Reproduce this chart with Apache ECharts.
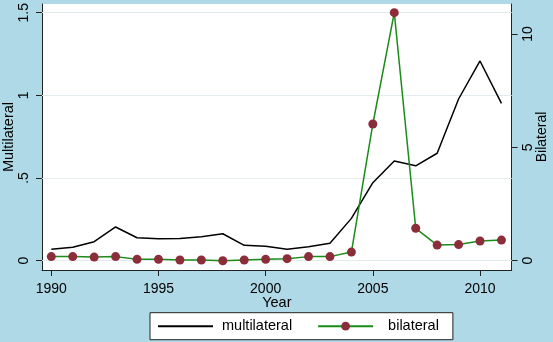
<!DOCTYPE html>
<html>
<head>
<meta charset="utf-8">
<script src="https://cdn.jsdelivr.net/npm/echarts@6/dist/echarts.min.js"></script>
<style>
  html, body { margin: 0; padding: 0; background: #afd9e6; }
  #chart { width: 553px; height: 342px; }
</style>
</head>
<body>
<div id="chart"></div>
<script>
// Yearly aid volumes, multilateral (left axis) and bilateral (right axis)
const years = [1990, 1991, 1992, 1993, 1994, 1995, 1996, 1997, 1998, 1999, 2000,
               2001, 2002, 2003, 2004, 2005, 2006, 2007, 2008, 2009, 2010, 2011];
const multilateral = [0.069, 0.081, 0.115, 0.204, 0.139, 0.133, 0.135, 0.145, 0.163, 0.093, 0.087,
                      0.069, 0.085, 0.105, 0.256, 0.472, 0.603, 0.574, 0.650, 0.978, 1.208, 0.952];
const bilateral = [0.18, 0.18, 0.16, 0.18, 0.06, 0.06, 0.03, 0.03, 0.00, 0.03, 0.06,
                   0.09, 0.18, 0.18, 0.38, 6.03, 10.94, 1.43, 0.69, 0.71, 0.87, 0.91];

const yearTicks = [1990, 1995, 2000, 2005, 2010];
const leftTicks = [0, 0.5, 1, 1.5];
const leftTickText = ['0', '.5', '1', '1.5'];
const rightTicks = [0, 5, 10];

const font = "'Liberation Sans', Arial, sans-serif";
const pair = (xs, ys) => xs.map((x, i) => [x, ys[i]]);

const chart = echarts.init(document.getElementById('chart'), null, { renderer: 'canvas' });
chart.setOption({
  animation: false,
  backgroundColor: '#afd9e6',
  textStyle: { fontFamily: font, color: '#000' },
  grid: {
    left: 42, right: 41.3, top: 4, bottom: 72,
    outerBoundsMode: 'none', containLabel: false,
    show: true, backgroundColor: '#ffffff', borderWidth: 0
  },
  xAxis: {
    type: 'value',
    min: 1989.566, max: 2011.478,
    name: 'Year', nameLocation: 'middle', nameGap: 25, nameMoveOverlap: false,
    nameTextStyle: { fontSize: 14.5, fontFamily: font, color: '#000' },
    axisLine: { show: true, onZero: false, lineStyle: { color: '#222', width: 1 } },
    axisTick: { show: true, length: 6, customValues: yearTicks, lineStyle: { color: '#222' } },
    axisLabel: { customValues: yearTicks, fontSize: 14, fontFamily: font, color: '#000', margin: 12,
                 formatter: v => String(v) },
    splitLine: { show: false }
  },
  yAxis: [
    {
      type: 'value', position: 'left',
      min: -0.05625, max: 1.5526,
      name: 'Multilateral', nameLocation: 'middle', nameRotate: 90, nameGap: 26, nameMoveOverlap: false,
      nameTextStyle: { fontSize: 14.5, fontFamily: font, color: '#000' },
      axisLine: { show: true, onZero: false, lineStyle: { color: '#222', width: 1 } },
      axisTick: { show: true, length: 6, customValues: leftTicks, lineStyle: { color: '#222' } },
      axisLabel: { customValues: leftTicks, rotate: 90, fontSize: 14, fontFamily: font, color: '#000', margin: 11,
                   formatter: v => leftTickText[leftTicks.indexOf(v)] ?? String(v) },
      splitLine: { show: false }
    },
    {
      type: 'value', position: 'right',
      min: -0.410, max: 11.323,
      name: 'Bilateral', nameLocation: 'middle', nameRotate: 90, nameGap: 23, nameMoveOverlap: false,
      nameTextStyle: { fontSize: 14, fontFamily: font, color: '#000' },
      axisLine: { show: true, onZero: false, lineStyle: { color: '#222', width: 1 } },
      axisTick: { show: true, length: 6, customValues: rightTicks, lineStyle: { color: '#222' } },
      axisLabel: { customValues: rightTicks, rotate: 90, fontSize: 14, fontFamily: font, color: '#000', margin: 9,
                   formatter: v => String(v) },
      splitLine: { show: false }
    }
  ],
  legend: {
    left: 150, top: 312.7,
    orient: 'horizontal',
    backgroundColor: '#ffffff', borderColor: '#222', borderWidth: 1, borderRadius: 0,
    padding: [6, 14, 6, 7],
    itemWidth: 55, itemHeight: 11, itemGap: 25,
    textStyle: { fontSize: 14.5, fontFamily: font, color: '#000', padding: [0, 0, 0, 4] },
    data: [
      { name: 'multilateral', itemStyle: { opacity: 0 } },
      { name: 'bilateral', textStyle: { padding: [0, 0, 0, 10] } }
    ]
  },
  series: [
    {
      name: 'multilateral', type: 'line', yAxisIndex: 0,
      data: pair(years, multilateral),
      symbol: 'none',
      lineStyle: { color: '#000', width: 1.5 },
      itemStyle: { color: '#000' },
      z: 3,
      markLine: {
        silent: true, symbol: 'none', z: 1,
        label: { show: false },
        lineStyle: { color: '#e3ebef', width: 1, type: 'solid' },
        data: leftTicks.map(v => ({ yAxis: v }))
      }
    },
    {
      name: 'bilateral', type: 'line', yAxisIndex: 1,
      data: pair(years, bilateral),
      symbol: 'circle', symbolSize: 9, showSymbol: true,
      lineStyle: { color: '#1a8c1a', width: 1.5 },
      itemStyle: { color: '#8c2d3a' },
      z: 4
    }
  ]
});
</script>
</body>
</html>
